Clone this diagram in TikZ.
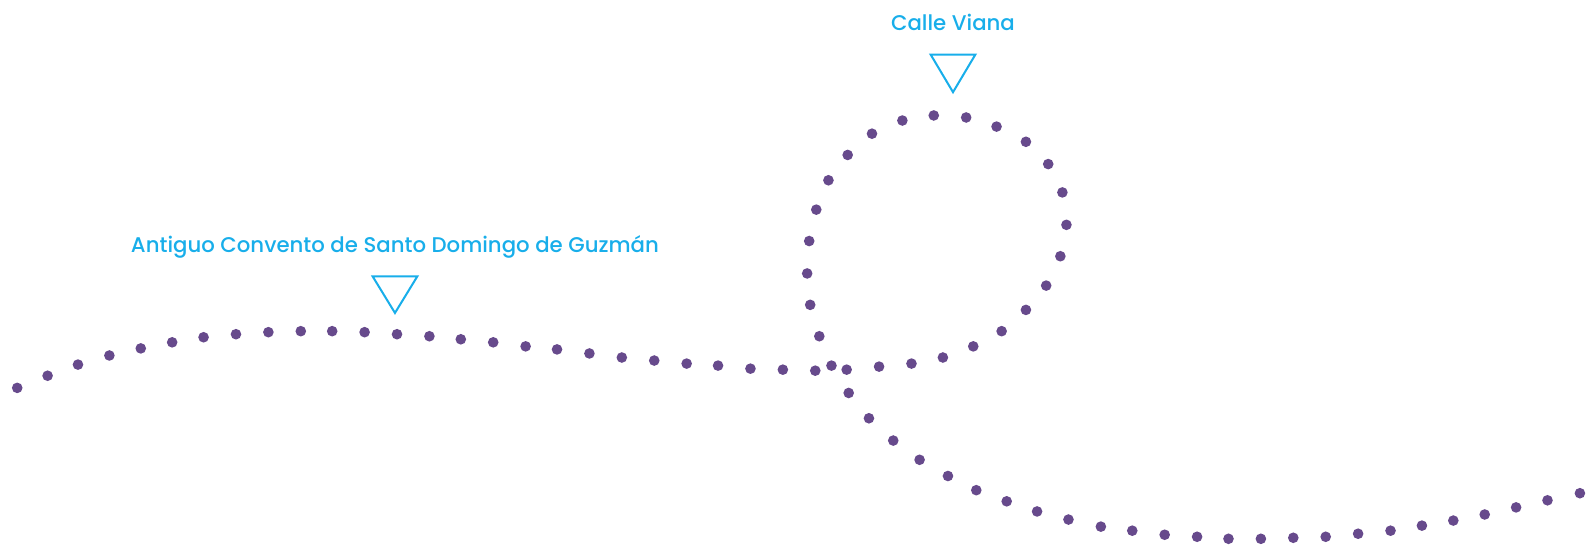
\documentclass[tikz,border=0pt]{standalone}
\usepackage{fontspec}
\setmainfont{Poppins}[UprightFont={Poppins Medium}]
\definecolor{dotpurple}{HTML}{674A8C}
\definecolor{labelcyan}{HTML}{18AEEA}
\begin{document}
\begin{tikzpicture}[x=1pt,y=-1pt,
  routedot/.style={circle,fill=dotpurple,inner sep=0pt,minimum size=10.5pt},
  marker/.style={draw=labelcyan,line width=2pt,line join=miter},
  placelabel/.style={text=labelcyan,font=\fontsize{21}{24}\selectfont,inner sep=0pt,anchor=base}]
\useasboundingbox (0,0) rectangle (1568,538);
\foreach \x/\y [count=\i] in {17/383,47/371,77/360,108/351,139/344,170/338,201/333,233/330,265/328,297/327,328/327,360/328,392/330,424/332,455/335,487/338,519/342,550/345,582/349,614/353,646/356,678/359,709/361,741/364,773/365,805/366,836/365,868/362,900/359,931/353,961/342,989/327,1013/306,1033/282,1047/253,1053/222,1049/190,1035/162,1013/140,984/125,954/116,922/114,891/119,861/132,837/153,818/178,806/207,799/238,797/270,800/301,809/332,821/361,838/388,858/413,882/435,908/454,936/470,964/484,994/495,1024/505,1055/513,1087/520,1118/524,1150/528,1182/530,1213/532,1245/532,1277/531,1309/530,1341/527,1373/524,1404/519,1435/514,1466/508,1497/501,1528/494,1560/487}
  \node[routedot] (d\i) at (\x,\y) {};
\node[placelabel] (convento) at (390,249) {Antiguo Convento de Santo Domingo de Guzmán};
\node[placelabel] (viana) at (941,30) {Calle Viana};
\coordinate (t1a) at (368,273);
\coordinate (t1b) at (412,273);
\coordinate (t1c) at (390,309);
\draw[marker] (t1a) -- (t1b) -- (t1c) -- cycle;
\coordinate (t2a) at (919,54);
\coordinate (t2b) at (963,54);
\coordinate (t2c) at (941,91);
\draw[marker] (t2a) -- (t2b) -- (t2c) -- cycle;
\end{tikzpicture}
\end{document}
